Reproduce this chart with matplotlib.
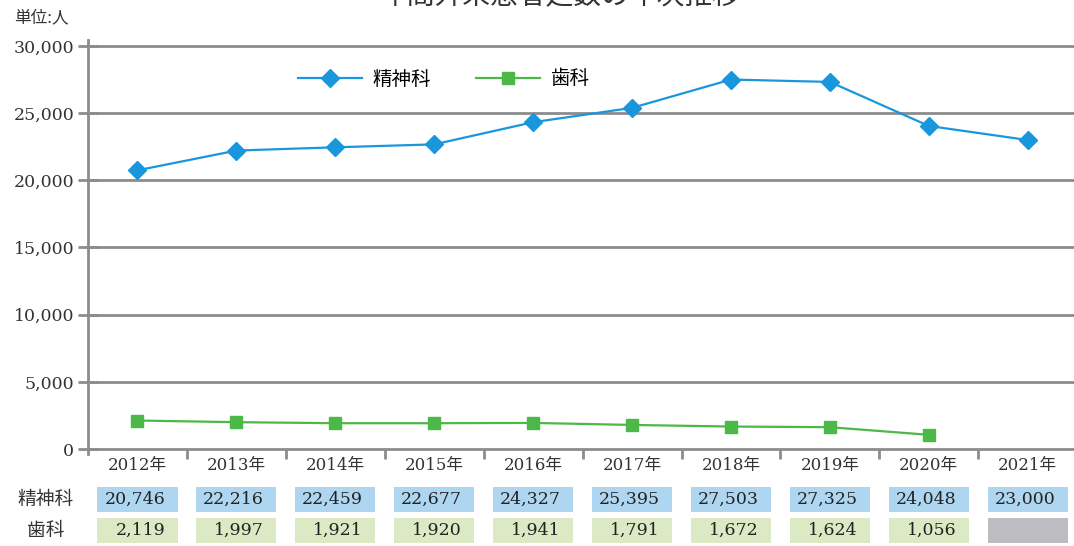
import matplotlib.pyplot as plt
from matplotlib.patches import Rectangle
import matplotlib.transforms as mtransforms

plt.rcParams['font.family'] = ['DejaVu Serif', 'Noto Sans CJK JP']

years = ['2012年', '2013年', '2014年', '2015年', '2016年',
         '2017年', '2018年', '2019年', '2020年', '2021年']
psych = [20746, 22216, 22459, 22677, 24327, 25395, 27503, 27325, 24048, 23000]
dental = [2119, 1997, 1921, 1920, 1941, 1791, 1672, 1624, 1056]
yticks = [0, 5000, 10000, 15000, 20000, 25000, 30000]

blue = '#1a96dc'
green = '#4cb847'
grid_c = '#8c8c8e'
txt_c = '#333333'

fig = plt.figure(figsize=(10.74, 5.46), dpi=100)
ax = fig.add_axes([88 / 1074, 97 / 546, 1 - 88 / 1074 + 0.003, 403 / 546])

x = list(range(len(years)))
ax.set_xlim(-0.5, len(years) - 0.5)
ax.set_ylim(0, 30000)

for v in yticks[1:]:
    ax.axhline(v, color=grid_c, lw=2, zorder=1, clip_on=False)
ax.plot([-0.5, -0.5], [-400, 30450], color=grid_c, lw=2, clip_on=False, zorder=1)

for s in ['top', 'right', 'left']:
    ax.spines[s].set_visible(False)
ax.spines['bottom'].set_color(grid_c)
ax.spines['bottom'].set_linewidth(2)

ax.set_yticks(yticks)
ax.set_yticklabels([f'{v:,}' for v in yticks], fontsize=12.5, color=txt_c)
ax.tick_params(axis='y', length=14, width=2, color=grid_c, direction='inout', pad=3)

ax.set_xticks(x)
ax.set_xticklabels(years, fontsize=12, color=txt_c)
ax.tick_params(axis='x', which='major', length=0, pad=6)
ax.set_xticks([i + 0.5 for i in x[:-1]], minor=True)
ax.tick_params(axis='x', which='minor', length=7, width=2, color=grid_c, direction='out')

ax.plot(x, psych, color=blue, lw=1.6, marker='D', ms=9, label='精神科', zorder=3, clip_on=False)
ax.plot(x[:len(dental)], dental, color=green, lw=1.6, marker='s', ms=9, label='歯科', zorder=3, clip_on=False)

ax.legend(loc='center left', bbox_to_anchor=(0.204, (449 - 79) / 403), ncol=2, frameon=False,
          handlelength=3.3, columnspacing=2.3, handletextpad=0.55, borderaxespad=0,
          prop={'family': ['Noto Sans CJK JP'], 'size': 14})

# data table below the chart
trans = mtransforms.blended_transform_factory(ax.transData, fig.transFigure)
row_y = [(546 - 512) / 546, (546 - 543) / 546]
row_h = 25 / 546
row_colors = ['#aed6f1', '#dbeac4']
rows = [psych, dental]
for r, (vals, col) in enumerate(zip(rows, row_colors)):
    for i in x:
        if i < len(vals):
            ax.add_patch(Rectangle((i - 0.405, row_y[r]), 0.81, row_h, transform=trans,
                                   facecolor=col, edgecolor='none', clip_on=False))
            ax.text(i + 0.28, row_y[r] + row_h / 2, f'{vals[i]:,}', transform=trans,
                    ha='right', va='center', fontsize=12.5, color='#222222')
        else:
            ax.add_patch(Rectangle((i - 0.405, row_y[r]), 0.81, row_h, transform=trans,
                                   facecolor='#bdbdc1', edgecolor='none', clip_on=False))

fig.text(46 / 1074, row_y[0] + row_h / 2, '精神科', ha='center', va='center',
         fontsize=13.5, color=txt_c, family=['Noto Sans CJK JP'])
fig.text(46 / 1074, row_y[1] + row_h / 2, '歯科', ha='center', va='center',
         fontsize=13.5, color=txt_c, family=['Noto Sans CJK JP'])

fig.text(14 / 1074, (546 - 18) / 546, '単位:人', ha='left', va='center',
         fontsize=12, color=txt_c, family=['Noto Sans CJK JP'])
# title sits mostly above the canvas, as in the source image
fig.text(560 / 1074, (546 - 4) / 546, '年間外来患者延数の年次推移', ha='center', va='baseline',
         fontsize=20, color=txt_c, family=['Noto Sans CJK JP'])

fig.savefig('out.png', dpi=100)
